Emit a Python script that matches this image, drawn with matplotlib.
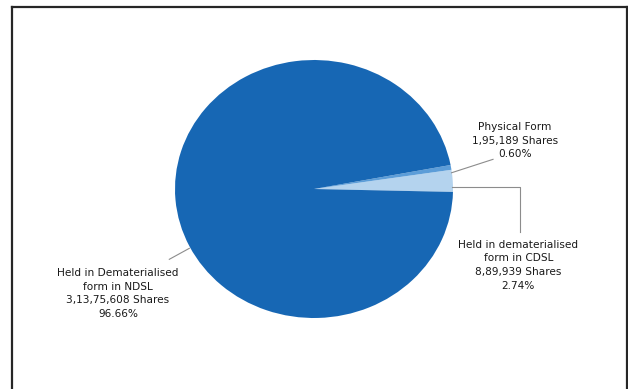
"""Shareholding pattern by form of holding - pie with leader-line labels."""

import matplotlib.pyplot as plt
from matplotlib.lines import Line2D

# Slices, drawn counter-clockwise starting just below 3 o'clock
categories = ["Held in dematerialised form in CDSL", "Physical Form",
              "Held in Dematerialised form in NDSL"]
shares = ["8,89,939", "1,95,189", "3,13,75,608"]
percent = [2.74, 0.60, 96.66]
colors = ["#B4D3EE", "#5C9DD8", "#1767B4"]

label_text = [
    "Held in dematerialised\nform in CDSL\n{} Shares\n{:.2f}%",
    "Physical Form\n{} Shares\n{:.2f}%",
    "Held in Dematerialised\nform in NDSL\n{} Shares\n{:.2f}%",
]
# label centre and leader polyline, in pie data units (radius 1)
label_pos = [(1.47, -0.59), (1.446, 0.374), (-1.41, -0.81)]
leaders = [
    [(0.993, 0.016), (1.482, 0.016), (1.482, -0.333)],
    [(0.99, 0.126), (1.288, 0.230)],
    [(-0.897, -0.460), (-1.041, -0.545)],
]

W, H = 628, 389
fig = plt.figure(figsize=(W / 100, H / 100), dpi=100)

# pie is slightly squashed in the original: 278 px wide, 258 px tall
ax = fig.add_axes([175 / W, (H - 318) / H, 278 / W, 258 / H])
ax.pie(percent, colors=colors, startangle=-1.3, counterclock=True,
       radius=1.0, wedgeprops=dict(linewidth=0))
ax.set_aspect("auto")
ax.set_xlim(-1, 1)
ax.set_ylim(-1, 1)
ax.axis("off")

for i, tmpl in enumerate(label_text):
    ax.text(*label_pos[i], tmpl.format(shares[i], percent[i]),
            ha="center", va="center", ma="center", fontsize=7.6,
            color="#1A1A1A", linespacing=1.45, clip_on=False)
    xs, ys = zip(*leaders[i])
    ax.plot(xs, ys, color="#8C8C8C", lw=0.8, clip_on=False)

# chart frame (bottom edge falls outside the image)
frame = dict(color="#262626", lw=1.6, transform=fig.transFigure)
fig.add_artist(Line2D([12 / W, 12 / W], [0, 1 - 7 / H], **frame))
fig.add_artist(Line2D([12 / W, 627 / W], [1 - 7 / H, 1 - 7 / H], **frame))
fig.add_artist(Line2D([627 / W, 627 / W], [0, 1 - 7 / H], **frame))

fig.savefig("out.png", dpi=100)
